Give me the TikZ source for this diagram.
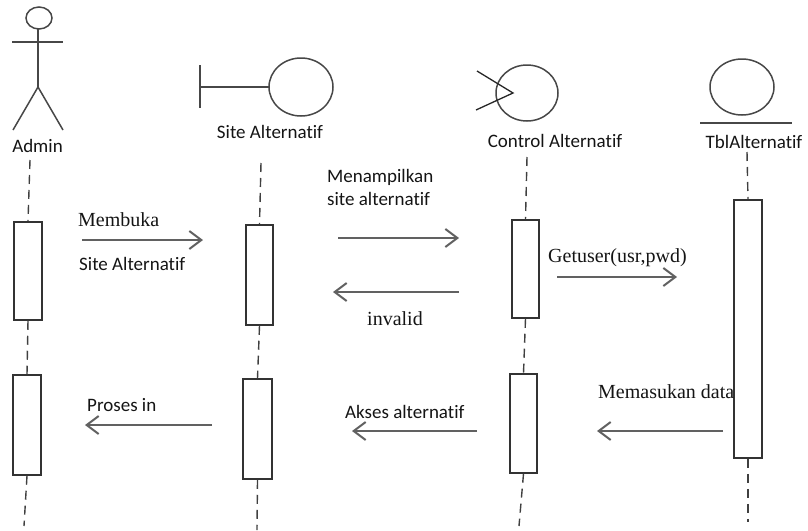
\documentclass[tikz,border=0pt]{standalone}
\usepackage{fontspec}
\setmainfont{Liberation Serif}
\newfontfamily\calfont[Ligatures=NoCommon]{Carlito}
\usetikzlibrary{arrows.meta}
\begin{document}
\begin{tikzpicture}[x=1pt,y=-1pt,
  sanslbl/.style={font=\calfont\fontsize{19}{22}\selectfont, text=black!92, inner sep=0pt},
  seriflbl/.style={font=\fontsize{20}{24}\selectfont, text=black!92, inner sep=0pt},
  msg/.style={draw=black!62, line width=2pt, -{Straight Barb[length=12pt,width=18pt,line width=2pt]}},
  life/.style={draw=black!75, line width=1.4pt, dash pattern=on 9pt off 6pt},
  actbox/.style={draw=black!80, line width=1.5pt, fill=white, inner sep=0pt, minimum width=28pt},
  icon/.style={draw=black!72, line width=1.5pt}
]
\useasboundingbox (0,0) rectangle (808,530);

% Actor Admin
\draw[icon] (39,18) ellipse [x radius=13, y radius=11];
\draw[icon] (12,42) -- (63,42);
\draw[icon] (38,29) -- (38,87);
\draw[icon] (13,130) -- (38,87) -- (63,130);
\node[sanslbl, anchor=base] (lAdmin) at (37.5,152) {Admin};

% Boundary Site Alternatif
\draw[icon] (200,65) -- (200,108);
\draw[icon] (200,87) -- (269,87);
\draw[icon] (301,87) ellipse [x radius=32, y radius=29];
\node[sanslbl, anchor=base] (lSite) at (270,138) {Site Alternatif};

% Control Alternatif
\draw[icon] (527,93) ellipse [x radius=31, y radius=28];
\draw[draw=black!85, line width=1.3pt] (477,71) -- (513,93) -- (476,110);
\node[sanslbl, anchor=base] (lCtrl) at (555,147) {Control Alternatif};

% Entity TblAlternatif
\draw[icon] (742,87) ellipse [x radius=32, y radius=28];
\draw[icon] (700,123) -- (792,123);
\node[sanslbl, anchor=base] (lTbl) at (754,148) {TblAlternatif};

% Activation boxes
\node[actbox, minimum height=98pt] (a1) at (28,271) {};
\node[actbox, minimum height=100pt] (a2) at (27,425) {};
\node[actbox, minimum height=100pt, minimum width=27pt] (s1) at (259.5,275) {};
\node[actbox, minimum height=100pt, minimum width=29pt] (s2) at (257.5,429) {};
\node[actbox, minimum height=98pt, minimum width=27pt] (c1) at (525.5,269) {};
\node[actbox, minimum height=99pt, minimum width=27pt] (c2) at (523.5,423.5) {};
\node[actbox, minimum height=258pt] (t1) at (748,329) {};

% Lifelines
\coordinate (aTop) at (30,160);
\coordinate (aBot) at (24,526);
\coordinate (sTop) at (261,163);
\coordinate (sBot) at (257,530);
\coordinate (cTop) at (527,157);
\coordinate (cBot) at (519,526);
\coordinate (tTop) at (747,152);
\coordinate (tBot) at (748,522);
\draw[life] (aTop) -- (a1.north);
\draw[life] (a1.south) -- (a2.north);
\draw[life] (a2.south) -- (aBot);
\draw[life] (sTop) -- (s1.north);
\draw[life] (s1.south) -- (s2.north);
\draw[life] (s2.south) -- (sBot);
\draw[life] (cTop) -- (c1.north);
\draw[life] (c1.south) -- (c2.north);
\draw[life] (c2.south) -- (cBot);
\draw[life] (tTop) -- (t1.north);
\draw[life] (t1.south) -- (tBot);

% Messages
\coordinate (m1a) at (82,240);  \coordinate (m1b) at (203,240);
\coordinate (m2a) at (338,238); \coordinate (m2b) at (459,238);
\coordinate (m3a) at (459,292); \coordinate (m3b) at (333,292);
\coordinate (m4a) at (557,277); \coordinate (m4b) at (677,277);
\coordinate (m5a) at (723,431); \coordinate (m5b) at (597,431);
\coordinate (m6a) at (477,431); \coordinate (m6b) at (352,431);
\coordinate (m7a) at (212,425); \coordinate (m7b) at (85,425);
\draw[msg] (m1a) -- (m1b);
\draw[msg] (m2a) -- (m2b);
\draw[msg] (m3a) -- (m3b);
\draw[msg] (m4a) -- (m4b);
\draw[msg] (m5a) -- (m5b);
\draw[msg] (m6a) -- (m6b);
\draw[msg] (m7a) -- (m7b);

% Message labels
\node[seriflbl, anchor=base west] (t1a) at (78,226) {Membuka};
\node[sanslbl, anchor=base west] (t1b) at (79,270) {Site Alternatif};
\node[sanslbl, anchor=base west] (t2a) at (327,182) {Menampilkan};
\node[sanslbl, anchor=base west] (t2b) at (327,205) {site alternatif};
\node[seriflbl, anchor=base west] (t3) at (367,325) {invalid};
\node[seriflbl, anchor=base west] (t4) at (548,262) {Getuser(usr,pwd)};
\node[seriflbl, anchor=base west] (t5) at (598,398) {Memasukan data};
\node[sanslbl, anchor=base west] (t6) at (345,418) {Akses alternatif};
\node[sanslbl, anchor=base west] (t7) at (87,411) {Proses in};
\end{tikzpicture}
\end{document}
